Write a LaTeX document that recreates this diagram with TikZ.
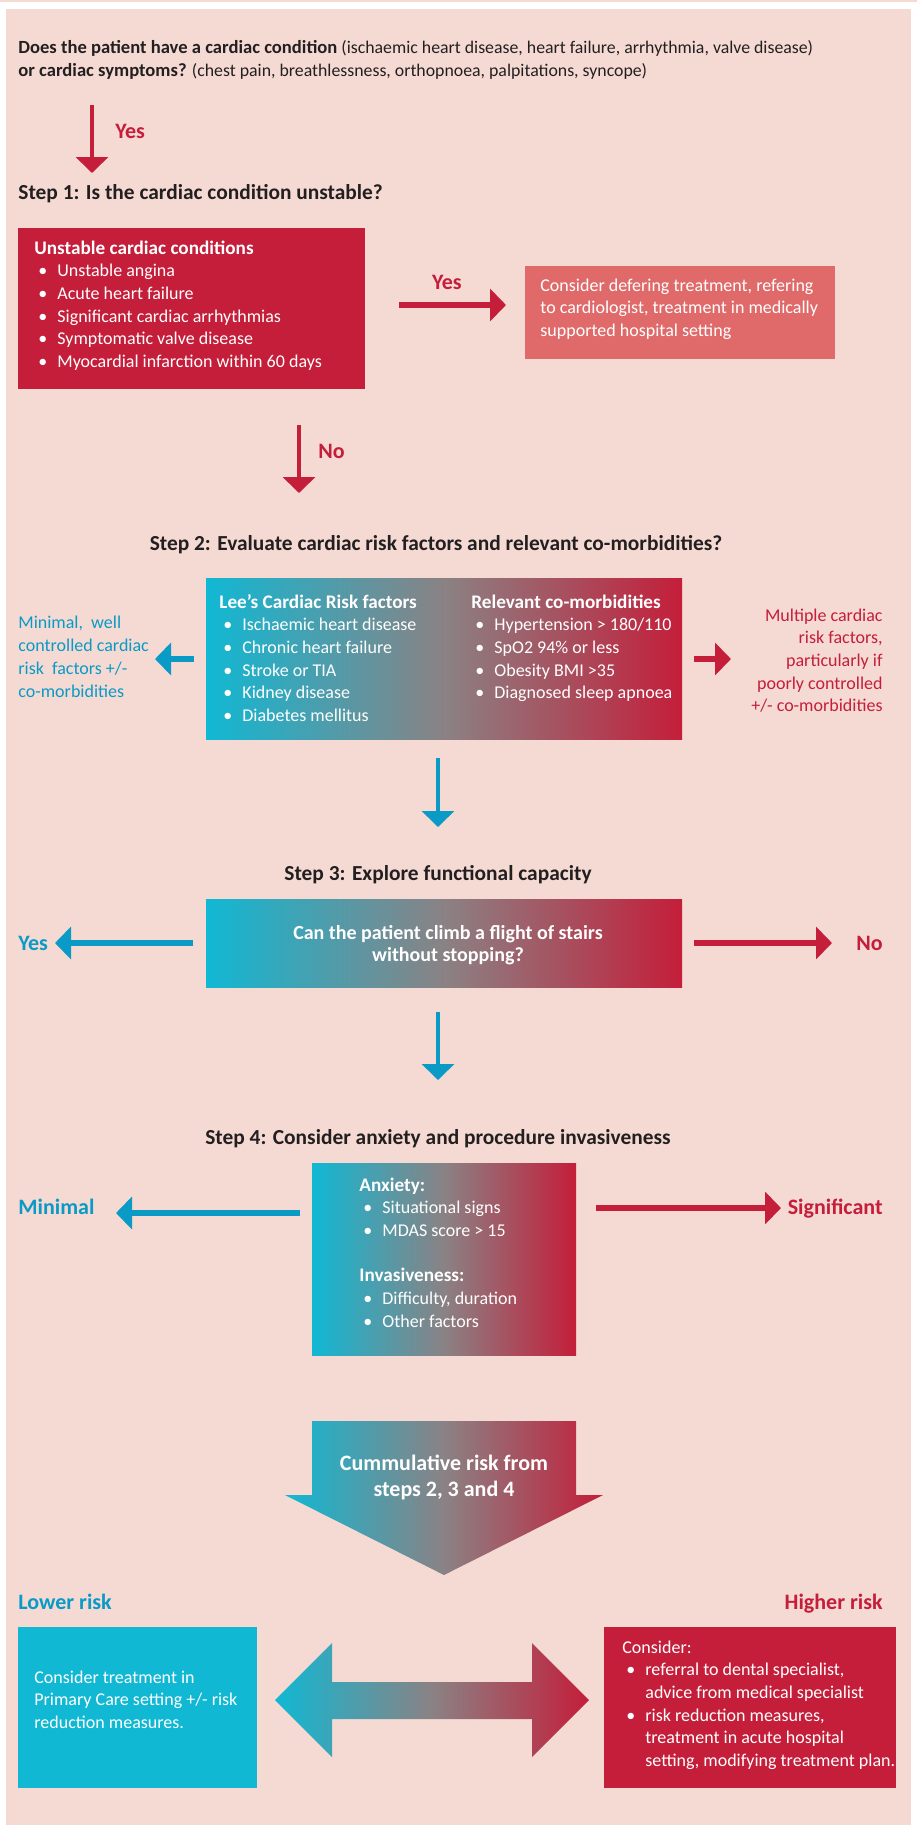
\documentclass[tikz,border=0pt]{standalone}
\usepackage{fontspec}
\setmainfont{Carlito}
\usetikzlibrary{arrows.meta}

\definecolor{bgpink}{RGB}{245,218,212}
\definecolor{riskred}{RGB}{196,30,58}
\definecolor{softred}{RGB}{224,106,106}
\definecolor{riskblue}{RGB}{16,184,212}
\definecolor{arrowblue}{RGB}{10,154,198}
\definecolor{riskgray}{RGB}{138,130,132}
\definecolor{darktext}{RGB}{35,31,32}

\pgfdeclarehorizontalshading{riskshade}{100bp}{color(0bp)=(riskblue); color(25bp)=(riskblue); color(50bp)=(riskgray); color(75bp)=(riskred); color(100bp)=(riskred)}

\newcommand{\riskbul}{\makebox[11.5pt][l]{\hspace{2pt}\textbullet}}
\newcommand{\riskind}{\hspace*{11.5pt}}
\newcommand{\riskhead}[1]{{\fontsize{9.6}{11.35}\selectfont\bfseries #1}}

\tikzset{
  every node/.style={inner sep=0pt},
  body/.style={font=\fontsize{9}{11.35}\selectfont, align=left, anchor=base west},
  steptitle/.style={font=\fontsize{10.7}{13}\selectfont\bfseries, text=darktext, anchor=base},
  lbl/.style={font=\fontsize{11}{13}\selectfont\bfseries},
  downarr/.style={line width=1.75pt, -{Triangle[length=8pt,width=16pt]}},
  sidearr/.style={line width=3pt, -{Triangle[length=8pt,width=16pt]}},
}

\begin{document}
\begin{tikzpicture}[x=0.5pt,y=-0.5pt]
  \useasboundingbox (0,0) rectangle (917,1828);
  \fill[bgpink] (0,0) rectangle (917,2);
  \fill[bgpink] (6,9) rectangle (911,1825);

  % multi-line nodes sit on the baseline of their last line
  \node[body, font=\fontsize{8.9}{11.5}\selectfont, text=darktext] (intro) at (18,76) {{\fontsize{9.3}{11.5}\selectfont\bfseries Does the patient have a cardiac condition} (ischaemic heart disease, heart failure, arrhythmia, valve disease)\\
    {\fontsize{9.3}{11.5}\selectfont\bfseries or cardiac symptoms?} (chest pain, breathlessness, orthopnoea, palpitations, syncope)};

  \coordinate (yesa) at (92,105);
  \coordinate (yesb) at (92,173);
  \draw[downarr, riskred] (yesa) -- (yesb);
  \node[lbl, text=riskred, anchor=base west] (yesone) at (115,138) {Yes};

  % step 1
  \node[steptitle, anchor=base west] (stepone) at (18,199) {Step 1: Is the cardiac condition unstable?};
  \node[fill=riskred, minimum width=173.5pt, minimum height=80.5pt] (unstable) at (191.5,308.5) {};
  \node[body, text=white] (unstabletxt) at (34,367.5) {\riskhead{Unstable cardiac conditions}\\
    \riskbul Unstable angina\\
    \riskbul Acute heart failure\\
    \riskbul Significant cardiac arrhythmias\\
    \riskbul Symptomatic valve disease\\
    \riskbul Myocardial infarction within 60 days};

  \node[fill=softred, minimum width=155pt, minimum height=46.5pt] (defer) at (680,312.5) {};
  \node[body, text=white] (defertxt) at (540,336.4) {Consider defering treatment, refering\\
    to cardiologist, treatment in medically\\
    supported hospital setting};

  \coordinate (yesc) at (399,305);
  \coordinate (yesd) at (506,305);
  \draw[sidearr, riskred] (yesc) -- (yesd);
  \node[lbl, text=riskred, anchor=base] (yestwo) at (447,289) {Yes};

  \coordinate (noa) at (299,425);
  \coordinate (nob) at (299,493);
  \draw[downarr, riskred] (noa) -- (nob);
  \node[lbl, text=riskred, anchor=base west] (noone) at (318,458) {No};

  % step 2
  \node[steptitle] (steptwo) at (436,550) {Step 2: Evaluate cardiac risk factors and relevant co-morbidities?};
  \node[shading=riskshade, minimum width=238pt, minimum height=80.5pt] (riskbox) at (444,658.5) {};
  \node[body, text=white] (leetxt) at (219,721.5) {\riskhead{Lee’s Cardiac Risk factors}\\
    \riskbul Ischaemic heart disease\\
    \riskbul Chronic heart failure\\
    \riskbul Stroke or TIA\\
    \riskbul Kidney disease\\
    \riskbul Diabetes mellitus};
  \node[body, text=white] (comorbtxt) at (471,698.8) {\riskhead{Relevant co-morbidities}\\
    \riskbul Hypertension > 180/110\\
    \riskbul SpO2 94\% or less\\
    \riskbul Obesity BMI >35\\
    \riskbul Diagnosed sleep apnoea};

  \coordinate (riskl) at (194,659);
  \coordinate (risklend) at (155,659);
  \coordinate (riskr) at (694,659);
  \coordinate (riskrend) at (731,659);
  \draw[sidearr, arrowblue] (riskl) -- (risklend);
  \draw[sidearr, riskred] (riskr) -- (riskrend);
  \node[body, text=arrowblue] (minimaltxt) at (18,697) {Minimal,\ \ well\\
    controlled cardiac\\
    risk\ \ factors +/-\\
    co-morbidities};
  \node[body, text=riskred, align=right, anchor=base east] (multipletxt) at (883,711.8) {Multiple cardiac\\
    risk factors,\\
    particularly if\\
    poorly controlled\\
    +/- co-morbidities};

  \coordinate (downa) at (438,758);
  \coordinate (downb) at (438,827);
  \draw[downarr, arrowblue] (downa) -- (downb);

  % step 3
  \node[steptitle] (stepthree) at (438,880) {Step 3: Explore functional capacity};
  \node[shading=riskshade, minimum width=238pt, minimum height=44pt] (stairs) at (444,943) {};
  \node[font=\fontsize{10}{11.35}\selectfont\bfseries, text=white, align=center, anchor=base] (stairstxt) at (448,961.7) {Can the patient climb a flight of stairs\\ without stopping?};

  \coordinate (stairsl) at (193,943);
  \coordinate (stairslend) at (55,943);
  \coordinate (stairsr) at (694,943);
  \coordinate (stairsrend) at (832,943);
  \draw[sidearr, arrowblue] (stairsl) -- (stairslend);
  \draw[sidearr, riskred] (stairsr) -- (stairsrend);
  \node[lbl, text=arrowblue, anchor=base west] (yesthree) at (18,950) {Yes};
  \node[lbl, text=riskred, anchor=base east] (nothree) at (883,950) {No};

  \coordinate (downc) at (438,1012);
  \coordinate (downd) at (438,1080);
  \draw[downarr, arrowblue] (downc) -- (downd);

  % step 4
  \node[steptitle] (stepfour) at (438,1144) {Step 4: Consider anxiety and procedure invasiveness};
  \node[shading=riskshade, minimum width=132pt, minimum height=96pt] (anxiety) at (444,1259) {};
  \node[body, text=white] (anxietytxt) at (359,1327.2) {\riskhead{Anxiety:}\\
    \riskbul Situational signs\\
    \riskbul MDAS score > 15\\[11.35pt]
    \riskhead{Invasiveness:}\\
    \riskbul Difficulty, duration\\
    \riskbul Other factors};

  \coordinate (anxl) at (300,1213);
  \coordinate (anxlend) at (116,1213);
  \coordinate (anxr) at (596,1208);
  \coordinate (anxrend) at (781,1208);
  \draw[sidearr, arrowblue] (anxl) -- (anxlend);
  \draw[sidearr, riskred] (anxr) -- (anxrend);
  \node[lbl, text=arrowblue, anchor=base west] (minimal) at (18,1214) {Minimal};
  \node[lbl, text=riskred, anchor=base east] (significant) at (883,1214) {Significant};

  % cumulative risk
  \shade[shading=riskshade] (312,1421) -- (576,1421) -- (576,1495) -- (603,1495) -- (444,1575) -- (285,1495) -- (312,1495) -- cycle;
  \node[font=\fontsize{11}{13}\selectfont\bfseries, text=white, align=center, anchor=base] (cumul) at (444,1496) {Cummulative risk from\\ steps 2, 3 and 4};

  \node[lbl, text=arrowblue, anchor=base west] (lower) at (18,1609) {Lower risk};
  \node[lbl, text=riskred, anchor=base east] (higher) at (883,1609) {Higher risk};

  \node[fill=riskblue, minimum width=119.5pt, minimum height=80.5pt] (lowbox) at (137.5,1707.5) {};
  \node[body, text=white] (lowtxt) at (34,1728.4) {Consider treatment in\\
    Primary Care setting +/- risk\\
    reduction measures.};

  \node[fill=riskred, minimum width=146pt, minimum height=80.5pt] (highbox) at (750,1707.5) {};
  \node[body, text=white] (hightxt) at (622,1766.5) {Consider:\\
    \riskbul referral to dental specialist,\\
    \riskind advice from medical specialist\\
    \riskbul risk reduction measures,\\
    \riskind treatment in acute hospital\\
    \riskind setting, modifying treatment plan.};

  \shade[shading=riskshade] (275,1700) -- (332,1643) -- (332,1682) -- (532,1682) -- (532,1643) -- (589,1700) -- (532,1757) -- (532,1719) -- (332,1719) -- (332,1757) -- cycle;
\end{tikzpicture}
\end{document}
